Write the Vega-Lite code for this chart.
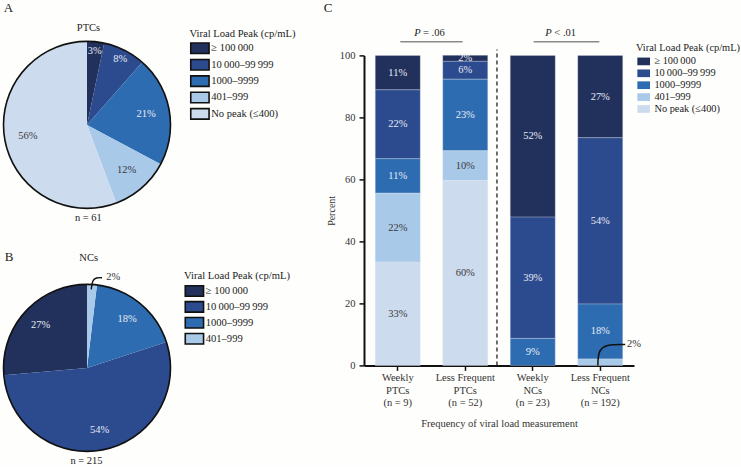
{
  "$schema": "https://vega.github.io/schema/vega-lite/v6.json",
  "background": "#fefefc",
  "padding": {"top": 1.4, "left": 0, "right": 0, "bottom": 0},
  "config": {
    "view": {"stroke": null},
    "font": "Liberation Serif",
    "text": {"font": "Liberation Serif"},
    "axis": {"labelFont": "Liberation Serif", "titleFont": "Liberation Serif", "grid": false},
    "legend": {"labelFont": "Liberation Serif", "titleFont": "Liberation Serif", "padding": 0}
  },
  "datasets": {
    "pieA": [
      {"cat": "≥ 100\u2009000", "ord": 5, "pct": 3.3, "label": "3%"},
      {"cat": "10\u2009000–99\u2009999", "ord": 4, "pct": 8.2, "label": "8%"},
      {"cat": "1000–9999", "ord": 3, "pct": 21.3, "label": "21%"},
      {"cat": "401–999", "ord": 2, "pct": 11.5, "label": "12%"},
      {"cat": "No peak (≤400)", "ord": 1, "pct": 55.7, "label": "56%"}
    ],
    "pieB": [
      {"cat": "≥ 100\u2009000", "ord": 5, "pct": 26.4, "label": "27%"},
      {"cat": "10\u2009000–99\u2009999", "ord": 4, "pct": 53.6, "label": "54%"},
      {"cat": "1000–9999", "ord": 3, "pct": 18.1, "label": "18%"},
      {"cat": "401–999", "ord": 2, "pct": 1.9, "label": "2%"}
    ],
    "bars": [
      {"group": "Weekly\nPTCs\n(n = 9)", "cat": "≥ 100\u2009000", "ord": 5, "pct": 11.11, "label": "11%"},
      {"group": "Weekly\nPTCs\n(n = 9)", "cat": "10\u2009000–99\u2009999", "ord": 4, "pct": 22.22, "label": "22%"},
      {"group": "Weekly\nPTCs\n(n = 9)", "cat": "1000–9999", "ord": 3, "pct": 11.11, "label": "11%"},
      {"group": "Weekly\nPTCs\n(n = 9)", "cat": "401–999", "ord": 2, "pct": 22.22, "label": "22%"},
      {"group": "Weekly\nPTCs\n(n = 9)", "cat": "No peak (≤400)", "ord": 1, "pct": 33.33, "label": "33%"},
      {"group": "Less Frequent\nPTCs\n(n = 52)", "cat": "≥ 100\u2009000", "ord": 5, "pct": 1.92, "label": "2%"},
      {"group": "Less Frequent\nPTCs\n(n = 52)", "cat": "10\u2009000–99\u2009999", "ord": 4, "pct": 5.77, "label": "6%"},
      {"group": "Less Frequent\nPTCs\n(n = 52)", "cat": "1000–9999", "ord": 3, "pct": 23.08, "label": "23%"},
      {"group": "Less Frequent\nPTCs\n(n = 52)", "cat": "401–999", "ord": 2, "pct": 9.62, "label": "10%"},
      {"group": "Less Frequent\nPTCs\n(n = 52)", "cat": "No peak (≤400)", "ord": 1, "pct": 59.62, "label": "60%"},
      {"group": "Weekly\nNCs\n(n = 23)", "cat": "≥ 100\u2009000", "ord": 5, "pct": 52.17, "label": "52%"},
      {"group": "Weekly\nNCs\n(n = 23)", "cat": "10\u2009000–99\u2009999", "ord": 4, "pct": 39.13, "label": "39%"},
      {"group": "Weekly\nNCs\n(n = 23)", "cat": "1000–9999", "ord": 3, "pct": 8.70, "label": "9%"},
      {"group": "Less Frequent\nNCs\n(n = 192)", "cat": "≥ 100\u2009000", "ord": 5, "pct": 26.56, "label": "27%"},
      {"group": "Less Frequent\nNCs\n(n = 192)", "cat": "10\u2009000–99\u2009999", "ord": 4, "pct": 53.65, "label": "54%"},
      {"group": "Less Frequent\nNCs\n(n = 192)", "cat": "1000–9999", "ord": 3, "pct": 17.71, "label": "18%"},
      {"group": "Less Frequent\nNCs\n(n = 192)", "cat": "401–999", "ord": 2, "pct": 2.08, "label": ""}
    ],
    "leaderB": [
      {"lx": 0.051, "ly": 0.94},
      {"lx": 0.064, "ly": 1.05},
      {"lx": 0.11, "ly": 1.082},
      {"lx": 0.18, "ly": 1.08}
    ],
    "leaderC": [
      {"lx": 3.465, "ly": 0.0},
      {"lx": 3.47, "ly": 4.6},
      {"lx": 3.58, "ly": 6.8},
      {"lx": 3.87, "ly": 6.77}
    ]
  },
  "spacing": 26,
  "resolve": {"scale": {"color": "independent", "theta": "independent"}},
  "hconcat": [
    {
      "spacing": 74,
      "bounds": "flush",
      "resolve": {"scale": {"color": "independent", "theta": "independent"}},
      "vconcat": [
        {
          "width": 170,
          "height": 139,
          "layer": [
            {
              "data": {"name": "pieA"},
              "mark": {"type": "arc", "radius": 83.5},
              "encoding": {
                "theta": {"field": "pct", "type": "quantitative", "stack": true},
                "color": {
                  "field": "cat", "type": "nominal",
                  "scale": {"domain": ["≥ 100\u2009000", "10\u2009000–99\u2009999", "1000–9999", "401–999", "No peak (≤400)"], "range": ["#22305c", "#2c4a8e", "#2d6cb0", "#a9c9e9", "#cddbee"]},
                  "legend": {
                    "orient": "none", "legendX": 187.5, "legendY": -26.4,
                    "title": "Viral Load Peak (cp/mL)", "titleFontSize": 10.6, "titleFontWeight": "normal", "titleColor": "#222", "titlePadding": 2.2,
                    "labelFontSize": 10.6, "labelColor": "#222", "labelOffset": 8.7,
                    "symbolType": "M-1,-1H2.49V1H-1Z", "symbolSize": 110, "symbolStrokeColor": "#111", "symbolStrokeWidth": 1.6, "symbolOpacity": 1,
                    "rowPadding": -0.6
                  }
                },
                "order": {"field": "ord", "sort": "descending"}
              }
            },
            {
              "data": {"name": "pieA"},
              "mark": {"type": "text", "radius": 74, "fontSize": 10.5, "baseline": "middle"},
              "encoding": {
                "theta": {"field": "pct", "type": "quantitative", "stack": true},
                "detail": {"field": "cat", "type": "nominal"},
                "order": {"field": "ord", "sort": "descending"},
                "text": {"condition": {"test": "datum.pct < 10", "field": "label", "type": "nominal"}, "value": ""},
                "color": {"condition": {"test": "datum.ord <= 2", "value": "#3a3a3a"}, "value": "#e6ebf4"}
              }
            },
            {
              "data": {"name": "pieA"},
              "mark": {"type": "text", "radius": 60, "fontSize": 10.5, "baseline": "middle"},
              "encoding": {
                "theta": {"field": "pct", "type": "quantitative", "stack": true},
                "detail": {"field": "cat", "type": "nominal"},
                "order": {"field": "ord", "sort": "descending"},
                "text": {"condition": {"test": "datum.pct >= 10", "field": "label", "type": "nominal"}, "value": ""},
                "color": {"condition": {"test": "datum.ord <= 2", "value": "#3a3a3a"}, "value": "#e6ebf4"}
              }
            },
            {
              "data": {"values": [{}]},
              "mark": {"type": "arc", "radius": 83.5, "theta": 0, "theta2": 6.2832, "fillOpacity": 0, "stroke": "#111", "strokeWidth": 1.6},
              "encoding": {}
            },
            {
              "data": {"values": [{}]},
              "mark": {"type": "text", "text": "A", "fontSize": 13, "align": "left", "baseline": "alphabetic", "color": "#222"},
              "encoding": {
                "x": {"datum": -0.998, "type": "quantitative", "scale": {"domain": [-1.018, 1.018], "nice": false, "zero": false}, "axis": null},
                "y": {"datum": 1.351, "type": "quantitative", "scale": {"domain": [-0.8323, 0.8323], "nice": false, "zero": false}, "axis": null}
              }
            },
            {
              "data": {"values": [{}]},
              "mark": {"type": "text", "text": "PTCs", "fontSize": 10.5, "align": "center", "baseline": "alphabetic", "color": "#222"},
              "encoding": {
                "x": {"datum": 0.018, "type": "quantitative", "scale": {"domain": [-1.018, 1.018], "nice": false, "zero": false}, "axis": null},
                "y": {"datum": 1.123, "type": "quantitative", "scale": {"domain": [-0.8323, 0.8323], "nice": false, "zero": false}, "axis": null}
              }
            },
            {
              "data": {"values": [{}]},
              "mark": {"type": "text", "text": "n = 61", "fontSize": 10.5, "align": "center", "baseline": "alphabetic", "color": "#222"},
              "encoding": {
                "x": {"datum": 0.016, "type": "quantitative", "scale": {"domain": [-1.018, 1.018], "nice": false, "zero": false}, "axis": null},
                "y": {"datum": -1.152, "type": "quantitative", "scale": {"domain": [-0.8323, 0.8323], "nice": false, "zero": false}, "axis": null}
              }
            }
          ]
        },
        {
          "width": 170,
          "height": 199,
          "layer": [
            {
              "data": {"name": "pieB"},
              "mark": {"type": "arc", "radius": 83.5},
              "encoding": {
                "theta": {"field": "pct", "type": "quantitative", "stack": true},
                "color": {
                  "field": "cat", "type": "nominal",
                  "scale": {"domain": ["≥ 100\u2009000", "10\u2009000–99\u2009999", "1000–9999", "401–999"], "range": ["#22305c", "#2c4a8e", "#2d6cb0", "#a9c9e9"]},
                  "legend": {
                    "orient": "none", "legendX": 182, "legendY": 2.3,
                    "title": "Viral Load Peak (cp/mL)", "titleFontSize": 10.6, "titleFontWeight": "normal", "titleColor": "#222", "titlePadding": 3.2,
                    "labelFontSize": 10.6, "labelColor": "#222", "labelOffset": 8.7,
                    "symbolType": "M-1,-1H2.49V1H-1Z", "symbolSize": 110, "symbolStrokeColor": "#111", "symbolStrokeWidth": 1.6, "symbolOpacity": 1,
                    "rowPadding": -1.1
                  }
                },
                "order": {"field": "ord", "sort": "ascending"}
              }
            },
            {
              "data": {"name": "pieB"},
              "mark": {"type": "text", "radius": 63, "fontSize": 10.5, "baseline": "middle"},
              "encoding": {
                "theta": {"field": "pct", "type": "quantitative", "stack": true},
                "detail": {"field": "cat", "type": "nominal"},
                "order": {"field": "ord", "sort": "ascending"},
                "text": {"condition": {"test": "datum.pct >= 10", "field": "label", "type": "nominal"}, "value": ""},
                "color": {"value": "#e6ebf4"}
              }
            },
            {
              "data": {"values": [{}]},
              "mark": {"type": "arc", "radius": 83.5, "theta": 0, "theta2": 6.2832, "fillOpacity": 0, "stroke": "#111", "strokeWidth": 1.6},
              "encoding": {}
            },
            {
              "data": {"name": "leaderB"},
              "mark": {"type": "line", "interpolate": "basis", "color": "#111", "strokeWidth": 1.4},
              "encoding": {
                "x": {"field": "lx", "type": "quantitative", "scale": {"domain": [-1.018, 1.018], "nice": false, "zero": false}, "axis": null},
                "y": {"field": "ly", "type": "quantitative", "scale": {"domain": [-1.1916, 1.1916], "nice": false, "zero": false}, "axis": null}
              }
            },
            {
              "data": {"values": [{}]},
              "mark": {"type": "text", "text": "2%", "fontSize": 10.5, "align": "left", "baseline": "middle", "color": "#333"},
              "encoding": {
                "x": {"datum": 0.231, "type": "quantitative", "scale": {"domain": [-1.018, 1.018], "nice": false, "zero": false}, "axis": null},
                "y": {"datum": 1.092, "type": "quantitative", "scale": {"domain": [-1.1916, 1.1916], "nice": false, "zero": false}, "axis": null}
              }
            },
            {
              "data": {"values": [{}]},
              "mark": {"type": "text", "text": "B", "fontSize": 13, "align": "left", "baseline": "alphabetic", "color": "#222"},
              "encoding": {
                "x": {"datum": -0.986, "type": "quantitative", "scale": {"domain": [-1.018, 1.018], "nice": false, "zero": false}, "axis": null},
                "y": {"datum": 1.279, "type": "quantitative", "scale": {"domain": [-1.1916, 1.1916], "nice": false, "zero": false}, "axis": null}
              }
            },
            {
              "data": {"values": [{}]},
              "mark": {"type": "text", "text": "NCs", "fontSize": 10.5, "align": "center", "baseline": "alphabetic", "color": "#222"},
              "encoding": {
                "x": {"datum": 0.02, "type": "quantitative", "scale": {"domain": [-1.018, 1.018], "nice": false, "zero": false}, "axis": null},
                "y": {"datum": 1.279, "type": "quantitative", "scale": {"domain": [-1.1916, 1.1916], "nice": false, "zero": false}, "axis": null}
              }
            },
            {
              "data": {"values": [{}]},
              "mark": {"type": "text", "text": "n = 215", "fontSize": 10.5, "align": "center", "baseline": "alphabetic", "color": "#222"},
              "encoding": {
                "x": {"datum": -0.006, "type": "quantitative", "scale": {"domain": [-1.018, 1.018], "nice": false, "zero": false}, "axis": null},
                "y": {"datum": -1.156, "type": "quantitative", "scale": {"domain": [-1.1916, 1.1916], "nice": false, "zero": false}, "axis": null}
              }
            }
          ]
        }
      ]
    },
    {
      "width": 270,
      "height": 310,
      "resolve": {"scale": {"x": "independent"}},
      "layer": [
        {
          "data": {"name": "bars"},
          "layer": [
            {
              "mark": {"type": "bar", "stroke": "#dfe6f1", "strokeWidth": 0.5, "strokeOpacity": 0.6},
              "encoding": {
                "x": {
                  "field": "group", "type": "nominal", "sort": null,
                  "scale": {"paddingInner": 0.3333, "paddingOuter": 0.1667},
                  "axis": {
                    "labelExpr": "split(datum.label, '\\n')", "labelAngle": 0, "labelFontSize": 10.5, "labelLineHeight": 12.7, "labelColor": "#333", "labelPadding": 2,
                    "tickSize": 5, "tickWidth": 1.5, "tickColor": "#111", "domainColor": "#111", "domainWidth": 2,
                    "title": "Frequency of viral load measurement", "titleFontSize": 10.5, "titleFontWeight": "normal", "titleColor": "#333", "titlePadding": 10
                  }
                },
                "y": {
                  "field": "pct", "type": "quantitative", "stack": "zero",
                  "scale": {"domain": [0, 100], "nice": false},
                  "axis": {
                    "values": [0, 10, 20, 30, 40, 50, 60, 70, 80, 90, 100], "labelOverlap": false, "labelFontSize": 10.5, "labelColor": "#333", "labelPadding": 4,
                    "tickSize": 5, "tickWidth": 1.5, "tickColor": "#111", "domainColor": "#111", "domainWidth": 2,
                    "title": "Percent", "titleFontSize": 10, "titleFontWeight": "normal", "titleColor": "#333", "titlePadding": 3
                  }
                },
                "color": {
                  "field": "cat", "type": "nominal",
                  "scale": {"domain": ["≥ 100\u2009000", "10\u2009000–99\u2009999", "1000–9999", "401–999", "No peak (≤400)"], "range": ["#22305c", "#2c4a8e", "#2d6cb0", "#a9c9e9", "#cddbee"]},
                  "legend": {
                    "orient": "none", "legendX": 272, "legendY": -12.8,
                    "title": "Viral Load Peak (cp/mL)", "titleFontSize": 10.4, "titleFontWeight": "normal", "titleColor": "#222", "titlePadding": 3.2,
                    "labelFontSize": 10.4, "labelColor": "#222", "labelOffset": 8,
                    "symbolType": "M-1,-1H2.3V1H-1Z", "symbolSize": 59, "symbolStrokeWidth": 0, "symbolOpacity": 1,
                    "rowPadding": 0.9
                  }
                },
                "order": {"field": "ord", "sort": "ascending"}
              }
            },
            {
              "mark": {"type": "text", "fontSize": 10.5, "baseline": "middle"},
              "encoding": {
                "x": {"field": "group", "type": "nominal", "sort": null, "scale": {"paddingInner": 0.3333, "paddingOuter": 0.1667}},
                "y": {"field": "pct", "type": "quantitative", "stack": "zero", "bandPosition": 0.5, "scale": {"domain": [0, 100], "nice": false}},
                "detail": {"field": "cat", "type": "nominal"},
                "order": {"field": "ord", "sort": "ascending"},
                "text": {"field": "label", "type": "nominal"},
                "color": {"condition": {"test": "datum.ord <= 2", "value": "#3a3a3a"}, "value": "#e6ebf4"}
              }
            }
          ]
        },
        {
          "data": {"values": [{}]},
          "layer": [
            {
              "mark": {"type": "rule", "strokeDash": [4, 3], "strokeWidth": 1.2, "color": "#111"},
              "encoding": {
                "x": {"datum": 1.97, "type": "quantitative", "scale": {"domain": [0, 4], "nice": false, "zero": false}, "axis": null},
                "y": {"datum": 0, "type": "quantitative", "scale": {"domain": [0, 100], "nice": false}},
                "y2": {"datum": 101.9}
              }
            },
            {
              "mark": {"type": "rule", "strokeWidth": 1.5, "color": "#8a8a8a"},
              "encoding": {
                "x": {"datum": 0.538, "type": "quantitative", "scale": {"domain": [0, 4], "nice": false, "zero": false}, "axis": null},
                "x2": {"datum": 1.462},
                "y": {"datum": 104.42, "type": "quantitative", "scale": {"domain": [0, 100], "nice": false}}
              }
            },
            {
              "mark": {"type": "rule", "strokeWidth": 1.5, "color": "#8a8a8a"},
              "encoding": {
                "x": {"datum": 2.514, "type": "quantitative", "scale": {"domain": [0, 4], "nice": false, "zero": false}, "axis": null},
                "x2": {"datum": 3.486},
                "y": {"datum": 104.42, "type": "quantitative", "scale": {"domain": [0, 100], "nice": false}}
              }
            },
            {
              "mark": {"type": "text", "text": "P", "fontStyle": "italic", "fontSize": 10.5, "align": "right", "baseline": "alphabetic", "color": "#222"},
              "encoding": {
                "x": {"datum": 0.84, "type": "quantitative", "scale": {"domain": [0, 4], "nice": false, "zero": false}, "axis": null},
                "y": {"datum": 106.3, "type": "quantitative", "scale": {"domain": [0, 100], "nice": false}}
              }
            },
            {
              "mark": {"type": "text", "text": "= .06", "fontSize": 10.5, "align": "left", "baseline": "alphabetic", "color": "#222"},
              "encoding": {
                "x": {"datum": 0.874, "type": "quantitative", "scale": {"domain": [0, 4], "nice": false, "zero": false}, "axis": null},
                "y": {"datum": 106.3, "type": "quantitative", "scale": {"domain": [0, 100], "nice": false}}
              }
            },
            {
              "mark": {"type": "text", "text": "P", "fontStyle": "italic", "fontSize": 10.5, "align": "right", "baseline": "alphabetic", "color": "#222"},
              "encoding": {
                "x": {"datum": 2.781, "type": "quantitative", "scale": {"domain": [0, 4], "nice": false, "zero": false}, "axis": null},
                "y": {"datum": 106.3, "type": "quantitative", "scale": {"domain": [0, 100], "nice": false}}
              }
            },
            {
              "mark": {"type": "text", "text": "< .01", "fontSize": 10.5, "align": "left", "baseline": "alphabetic", "color": "#222"},
              "encoding": {
                "x": {"datum": 2.82, "type": "quantitative", "scale": {"domain": [0, 4], "nice": false, "zero": false}, "axis": null},
                "y": {"datum": 106.3, "type": "quantitative", "scale": {"domain": [0, 100], "nice": false}}
              }
            },
            {
              "mark": {"type": "text", "text": "C", "fontSize": 13, "align": "left", "baseline": "alphabetic", "color": "#222"},
              "encoding": {
                "x": {"datum": -0.597, "type": "quantitative", "scale": {"domain": [0, 4], "nice": false, "zero": false}, "axis": null},
                "y": {"datum": 113.97, "type": "quantitative", "scale": {"domain": [0, 100], "nice": false}}
              }
            },
            {
              "mark": {"type": "text", "text": "2%", "fontSize": 10.5, "align": "left", "baseline": "middle", "color": "#333"},
              "encoding": {
                "x": {"datum": 3.896, "type": "quantitative", "scale": {"domain": [0, 4], "nice": false, "zero": false}, "axis": null},
                "y": {"datum": 6.77, "type": "quantitative", "scale": {"domain": [0, 100], "nice": false}}
              }
            },
            {
              "data": {"name": "leaderC"},
              "mark": {"type": "line", "interpolate": "basis", "color": "#111", "strokeWidth": 1.5},
              "encoding": {
                "x": {"field": "lx", "type": "quantitative", "scale": {"domain": [0, 4], "nice": false, "zero": false}, "axis": null},
                "y": {"field": "ly", "type": "quantitative", "scale": {"domain": [0, 100], "nice": false}}
              }
            }
          ]
        }
      ]
    }
  ]
}
